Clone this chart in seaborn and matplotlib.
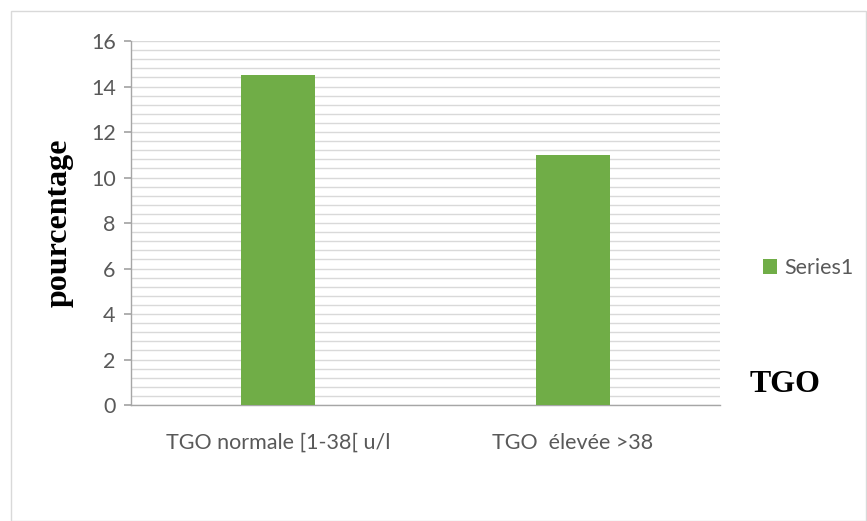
import matplotlib
matplotlib.use("Agg")
import matplotlib.pyplot as plt
from matplotlib.patches import Rectangle, Patch
from matplotlib.ticker import MultipleLocator
import seaborn as sns
import pandas as pd

categories = ["TGO normale [1-38[ u/l", "TGO  élevée >38"]
values = [14.5, 11.0]
series_name = "Series1"

sns.set_theme(style="white")
plt.rcParams["font.family"] = ["Lato", "DejaVu Sans"]

df = pd.DataFrame({"cat": categories, "val": values})

fig = plt.figure(figsize=(8.67, 5.21), dpi=100)
fig.patch.set_facecolor("white")
fig.patches.append(Rectangle((11 / 867, 0), 855 / 867, 510 / 521, transform=fig.transFigure,
                             fill=False, edgecolor="#D9D9D9", linewidth=1.0))

ax = fig.add_axes([131 / 867, 1 - 405 / 521, 589 / 867, 364 / 521])
sns.barplot(data=df, x="cat", y="val", color="#70AD47", width=0.25, saturation=1,
            linewidth=0, ax=ax, zorder=3)

ax.set_ylim(0, 16)
ax.set_xlim(-0.5, 1.5)
ax.yaxis.set_major_locator(MultipleLocator(2))
ax.yaxis.set_minor_locator(MultipleLocator(0.4))
ax.grid(True, which="both", axis="y", color="#D9D9D9", linewidth=1.0, zorder=0)
ax.set_axisbelow(True)

for s in ["top", "right"]:
    ax.spines[s].set_visible(False)
for s in ["left", "bottom"]:
    ax.spines[s].set_color("#A6A6A6")
    ax.spines[s].set_linewidth(1.0)

ax.tick_params(axis="y", which="major", length=5, color="#A6A6A6", left=True,
               labelsize=15.5, labelcolor="#595959", pad=6)
ax.tick_params(axis="y", which="minor", length=0)
ax.tick_params(axis="x", length=0, labelsize=15.5, labelcolor="#595959", pad=20)

ax.set_xlabel("")
ax.set_ylabel("pourcentage", fontsize=23, fontweight="bold", family="Liberation Serif",
              color="black")
ax.yaxis.set_label_coords((74 - 131) / 589, 0.5)

fig.text(750 / 867, 1 - 385 / 521, "TGO", fontsize=23, fontweight="bold",
         family="Liberation Serif", color="black", va="center", ha="left")

handles = [Patch(facecolor="#70AD47", edgecolor="none", label=series_name)]
fig.legend(handles=handles, loc="center left", bbox_to_anchor=(744 / 867, 1 - 268 / 521),
           frameon=False, fontsize=15.5, labelcolor="#595959", handlelength=0.65,
           handleheight=0.65, handletextpad=0.3)

fig.savefig("out.png", dpi=100)
